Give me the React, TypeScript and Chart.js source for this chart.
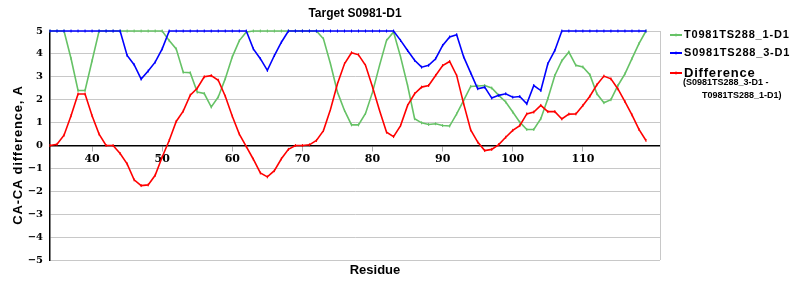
import React, { useEffect, useRef } from "react";
import { Chart, registerables } from "chart.js";

Chart.register(...registerables);

const titleText = "Target S0981-D1";
const yTitle = "CA-CA difference, A";
const xTitle = "Residue";

const residues = [
  34, 35, 36, 37, 38, 39, 40, 41, 42, 43,
  44, 45, 46, 47, 48, 49, 50, 51, 52, 53,
  54, 55, 56, 57, 58, 59, 60, 61, 62, 63,
  64, 65, 66, 67, 68, 69, 70, 71, 72, 73,
  74, 75, 76, 77, 78, 79, 80, 81, 82, 83,
  84, 85, 86, 87, 88, 89, 90, 91, 92, 93,
  94, 95, 96, 97, 98, 99, 100, 101, 102, 103,
  104, 105, 106, 107, 108, 109, 110, 111, 112, 113,
  114, 115, 116, 117, 118, 119,
];

const greenValues = [
  5, 5, 5, 3.8, 2.4, 2.4, 3.7, 5, 5, 5,
  5, 5, 5, 5, 5, 5, 5, 4.58, 4.22, 3.2,
  3.18, 2.33, 2.27, 1.68, 2.12, 2.92, 3.87, 4.58, 4.96, 5,
  5, 5, 5, 5, 5, 5, 5, 5, 5, 4.66,
  3.57, 2.33, 1.53, 0.9, 0.9, 1.4, 2.33, 3.5, 4.59, 4.96,
  3.87, 2.62, 1.17, 0.99, 0.92, 0.95, 0.87, 0.85, 1.38, 1.97,
  2.58, 2.6, 2.62, 2.51, 2.19, 1.9, 1.46, 1.02, 0.7, 0.7,
  1.17, 2.04, 3.06, 3.7, 4.08, 3.5, 3.43, 3.09, 2.26, 1.87,
  2.0, 2.62, 3.13, 3.79, 4.45, 5,
];

const blueValues = [
  5, 5, 5, 5, 5, 5, 5, 5, 5, 5,
  5, 3.93, 3.53, 2.9, 3.25, 3.64, 4.22, 5, 5, 5,
  5, 5, 5, 5, 5, 5, 5, 5, 5, 4.22,
  3.79, 3.28, 3.93, 4.51, 5, 5, 5, 5, 5, 5,
  5, 5, 5, 5, 5, 5, 5, 5, 5, 5,
  4.59, 4.15, 3.72, 3.42, 3.5, 3.79, 4.37, 4.74, 4.84, 3.87,
  3.17, 2.48, 2.55, 2.07, 2.19, 2.26, 2.11, 2.14, 1.82, 2.62,
  2.4, 3.57, 4.15, 5, 5, 5, 5, 5, 5, 5,
  5, 5, 5, 5, 5, 5,
];

const diffValues = [
  0, 0.05, 0.45, 1.3, 2.25, 2.25, 1.3, 0.5, 0, 0,
  -0.35, -0.8, -1.5, -1.75, -1.72, -1.3, -0.5, 0.22, 1.05, 1.5,
  2.2, 2.5, 3.0, 3.05, 2.85, 2.15, 1.28, 0.5, -0.05, -0.6,
  -1.2, -1.37, -1.1, -0.58, -0.17, 0, 0, 0.03, 0.22, 0.65,
  1.57, 2.7, 3.57, 4.05, 3.96, 3.5, 2.55, 1.53, 0.58, 0.39,
  0.87, 1.75, 2.26, 2.55, 2.62, 3.06, 3.49, 3.67, 3.06, 1.82,
  0.68, 0.15, -0.22, -0.17, 0.04, 0.36, 0.66, 0.87, 1.38, 1.46,
  1.75, 1.48, 1.48, 1.16, 1.37, 1.38, 1.75, 2.15, 2.65, 3.03,
  2.91, 2.47, 1.92, 1.34, 0.7, 0.22,
];

const xTickValues = [40, 50, 60, 70, 80, 90, 100, 110];
const yTickValues = [-5, -4, -3, -2, -1, 0, 1, 2, 3, 4, 5];

const seriesNames = ["T0981TS288_1-D1", "S0981TS288_3-D1", "Difference"];
const diffNote = ["(S0981TS288_3-D1 -", "T0981TS288_1-D1)"];
const colors = ["#66c266", "#0000ff", "#ff0000"];

const textPlugin = {
  id: "customText",
  beforeDatasetsDraw(chart: any) {
    const { ctx, chartArea } = chart;
    ctx.save();
    ctx.strokeStyle = "#c8c8c8";
    ctx.lineWidth = 1;
    ctx.beginPath();
    ctx.moveTo(Math.round(chartArea.right) + 0.5, chartArea.top);
    ctx.lineTo(Math.round(chartArea.right) + 0.5, chartArea.bottom);
    ctx.stroke();
    ctx.restore();
  },
  afterDraw(chart: any) {
    const { ctx, chartArea } = chart;
    ctx.save();
    ctx.fillStyle = "#000";
    ctx.textBaseline = "middle";
    ctx.textAlign = "center";
    ctx.font = "bold 12px 'Liberation Sans', Arial, sans-serif";
    ctx.fillText(titleText, (chartArea.left + chartArea.right) / 2, 14);

    ctx.font = "bold 13px 'Liberation Sans', Arial, sans-serif";
    ctx.fillText(xTitle, 375, 270);

    ctx.save();
    ctx.translate(18, 155);
    ctx.rotate(-Math.PI / 2);
    (ctx as any).letterSpacing = "0.8px";
    ctx.fillText(yTitle, 0, 0);
    ctx.restore();

    // legend
    const lx = 670;
    const rows = [35, 53, 73];
    ctx.textAlign = "left";
    for (let i = 0; i < 3; i++) {
      const y = rows[i];
      ctx.strokeStyle = colors[i];
      ctx.lineWidth = 2;
      ctx.beginPath();
      ctx.moveTo(lx, y);
      ctx.lineTo(lx + 12, y);
      ctx.stroke();
      ctx.lineWidth = 1;
      ctx.beginPath();
      ctx.moveTo(lx + 6, y - 1.5);
      ctx.lineTo(lx + 6, y + 1.5);
      ctx.stroke();
      ctx.fillStyle = "#000";
      (ctx as any).letterSpacing = "0.8px";
      ctx.font = i === 2 ? "bold 13px 'Liberation Sans', Arial, sans-serif" : "bold 11px 'Liberation Sans', Arial, sans-serif";
      ctx.fillText(seriesNames[i], lx + 14, y);
    }
    (ctx as any).letterSpacing = "0px";
    ctx.font = "bold 9px 'Liberation Sans', Arial, sans-serif";
    ctx.fillText(diffNote[0], 683, 83);
    ctx.fillText(diffNote[1], 702, 96);
    ctx.restore();
  },
};

export default function App() {
  const ref = useRef<HTMLCanvasElement | null>(null);
  useEffect(() => {
    if (!ref.current) return;
    const mk = (vals: number[]) => residues.map((r, i) => ({ x: r, y: vals[i] }));
    const common = {
      borderWidth: 1.6,
      pointStyle: "line",
      pointRotation: 90,
      pointRadius: 1.5,
      pointBorderWidth: 1,
      tension: 0,
      fill: false,
      clip: false,
    };
    const chart = new Chart(ref.current, {
      type: "line",
      data: {
        datasets: [
          { ...common, label: seriesNames[0], data: mk(greenValues), borderColor: colors[0], backgroundColor: colors[0], order: 3 },
          { ...common, label: seriesNames[1], data: mk(blueValues), borderColor: colors[1], backgroundColor: colors[1], order: 2 },
          { ...common, label: seriesNames[2], data: mk(diffValues), borderColor: colors[2], backgroundColor: colors[2], order: 1 },
        ],
      } as any,
      options: {
        responsive: false,
        animation: false,
        layout: { padding: { left: 0, top: 31, right: 140, bottom: 40 } },
        plugins: {
          legend: { display: false },
          title: { display: false },
          tooltip: { enabled: false },
        },
        scales: {
          x: {
            type: "linear",
            min: 34,
            max: 121,
            position: { y: 0 } as any,
            afterBuildTicks: (s: any) => {
              s.ticks = xTickValues.map((v) => ({ value: v }));
            },
            grid: {
              drawOnChartArea: false,
              drawTicks: true,
              tickLength: 5,
              color: "#b0b0b0",
            },
            border: { display: true, color: "#000", width: 1.5 },
            ticks: {
              color: "#000",
              padding: 2,
              maxRotation: 0,
              font: { family: "'DejaVu Serif', serif", size: 11, weight: "bold" },
            },
          },
          y: {
            type: "linear",
            min: -5,
            max: 5,
            afterFit: (s: any) => {
              s.width = 50;
            },
            afterBuildTicks: (s: any) => {
              s.ticks = yTickValues.map((v) => ({ value: v }));
            },
            grid: { color: "#c8c8c8", lineWidth: 1, drawTicks: false },
            border: { display: true, color: "#000", width: 1.5 },
            ticks: {
              color: "#000",
              padding: 7,
              callback: (v: any) => (Number(v) < 0 ? "\u2212" + Math.abs(Number(v)) : String(v)),
              font: { family: "'DejaVu Serif', serif", size: 10, weight: "bold" },
            },
          },
        },
      } as any,
      plugins: [textPlugin],
    });
    return () => chart.destroy();
  }, []);
  return (
    <div style={{ position: "absolute", left: 0, top: 0, width: 800, height: 300, background: "#fff" }}>
      <canvas ref={ref} width={800} height={300} style={{ width: 800, height: 300 }} />
    </div>
  );
}
